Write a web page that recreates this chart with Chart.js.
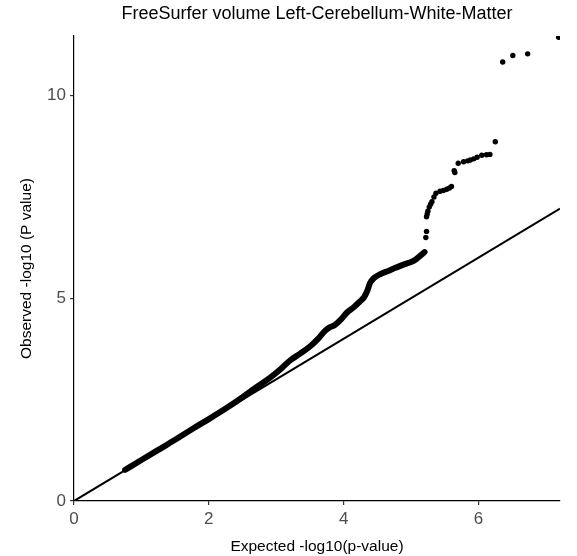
<!DOCTYPE html>
<html>
<head>
<meta charset="utf-8">
<script src="https://cdn.jsdelivr.net/npm/chart.js@4"></script>
<style>
  html, body { margin: 0; padding: 0; background: #fff; }
  #wrap { width: 577px; height: 556px; }
</style>
</head>
<body>
<div id="wrap"><canvas id="qq"></canvas></div>
<script>
// expected vs observed -log10(p), bulk of the SNPs (drawn as a thick band)
let bulkExpected = [0.76, 1.0, 1.25, 1.5, 1.75, 2.0, 2.25, 2.5, 2.7, 2.9, 3.05, 3.2, 3.35, 3.5, 3.62,
    3.72, 3.78, 3.87, 3.95, 4.05, 4.15, 4.24, 4.3, 4.35, 4.39, 4.45, 4.55, 4.64, 4.75, 4.84,
    4.94, 5.01, 5.08, 5.13, 5.2];
let bulkObserved = [0.77, 1.01, 1.26, 1.51, 1.77, 2.02, 2.28, 2.56, 2.8, 3.03, 3.23, 3.46, 3.63, 3.81, 4.0,
    4.19, 4.27, 4.34, 4.46, 4.65, 4.78, 4.92, 5.02, 5.18, 5.37, 5.5, 5.6, 5.66, 5.74, 5.8,
    5.86, 5.9, 5.97, 6.04, 6.14];

// the top hits, drawn as single points
let topExpected = [5.22, 5.23, 5.23, 5.24, 5.25, 5.27, 5.29, 5.31, 5.34, 5.37, 5.43, 5.48, 5.53, 5.57, 5.6,
    5.64, 5.65, 5.7, 5.78, 5.84, 5.88, 5.93, 5.98, 6.05, 6.12, 6.17, 6.25, 6.36, 6.51, 6.73, 7.19];
let topObserved = [6.5, 6.65, 7.01, 7.08, 7.15, 7.25, 7.32, 7.38, 7.5, 7.59, 7.64, 7.66, 7.69, 7.72, 7.76,
    8.15, 8.1, 8.33, 8.37, 8.39, 8.41, 8.44, 8.48, 8.53, 8.54, 8.55, 8.86, 10.83, 10.99, 11.03, 11.44];

let xTicks = [0, 2, 4, 6];
let yTicks = [0, 5, 10];
let xMax = 7.21;
let yMax = 11.47;

function toPoints(xs, ys) {
    return xs.map((x, i) => ({x: x, y: ys[i]}));
}

const FONT = '"Liberation Sans", Arial, sans-serif';

// title centred over the panel, not the whole canvas
const panelTitle = {
    id: 'panelTitle',
    afterDraw(chart) {
        const ctx = chart.ctx;
        const a = chart.chartArea;
        ctx.save();
        ctx.fillStyle = '#000';
        ctx.font = '18px ' + FONT;
        ctx.textAlign = 'center';
        ctx.textBaseline = 'middle';
        ctx.fillText('FreeSurfer volume Left-Cerebellum-White-Matter', (a.left + a.right) / 2, 14);
        ctx.restore();
    }
};

var ctx = document.getElementById('qq').getContext('2d');
var chart = new Chart(ctx, {
    type: 'scatter',
    data: {
        datasets: [
            {
                label: 'null',
                data: [{x: 0, y: 0}, {x: xMax, y: xMax}],
                showLine: true,
                borderColor: '#000',
                borderWidth: 2,
                pointRadius: 0,
                clip: 0
            },
            {
                label: 'bulk',
                data: toPoints(bulkExpected, bulkObserved),
                showLine: true,
                borderColor: '#000',
                backgroundColor: '#000',
                borderWidth: 6,
                borderCapStyle: 'round',
                borderJoinStyle: 'round',
                cubicInterpolationMode: 'monotone',
                pointRadius: 0
            },
            {
                label: 'top',
                data: toPoints(topExpected, topObserved),
                backgroundColor: '#000',
                borderWidth: 0,
                pointRadius: 2.7,
                clip: 0
            }
        ]
    },
    options: {
        responsive: true,
        maintainAspectRatio: false,
        animation: false,
        layout: {
            padding: {top: 36, right: 17, left: 0, bottom: 0}
        },
        plugins: {
            legend: {display: false},
            tooltip: {enabled: false}
        },
        scales: {
            x: {
                type: 'linear',
                min: 0,
                max: xMax,
                afterFit: s => { s.height = 55; },
                afterBuildTicks: s => { s.ticks = xTicks.map(v => ({value: v})); },
                ticks: {
                    color: '#4d4d4d',
                    font: {family: FONT, size: 17},
                    padding: 4,
                    maxRotation: 0
                },
                grid: {drawOnChartArea: false, drawTicks: true, tickLength: 4, color: '#333', lineWidth: 1.2},
                border: {display: true, color: '#000', width: 1.2},
                title: {
                    display: true,
                    text: 'Expected -log10(p-value)',
                    color: '#000',
                    font: {family: FONT, size: 15.5},
                    padding: {top: 4, bottom: 0}
                }
            },
            y: {
                type: 'linear',
                min: 0,
                max: yMax,
                afterFit: s => { s.width = 74; },
                afterBuildTicks: s => { s.ticks = yTicks.map(v => ({value: v})); },
                ticks: {
                    color: '#4d4d4d',
                    font: {family: FONT, size: 17},
                    padding: 4
                },
                grid: {drawOnChartArea: false, drawTicks: true, tickLength: 4, color: '#333', lineWidth: 1.2},
                border: {display: true, color: '#000', width: 1.2},
                title: {
                    display: true,
                    text: 'Observed -log10 (P value)',
                    color: '#000',
                    font: {family: FONT, size: 15.5},
                    padding: {top: 17, bottom: 0}
                }
            }
        }
    },
    plugins: [panelTitle]
});
</script>
</body>
</html>
